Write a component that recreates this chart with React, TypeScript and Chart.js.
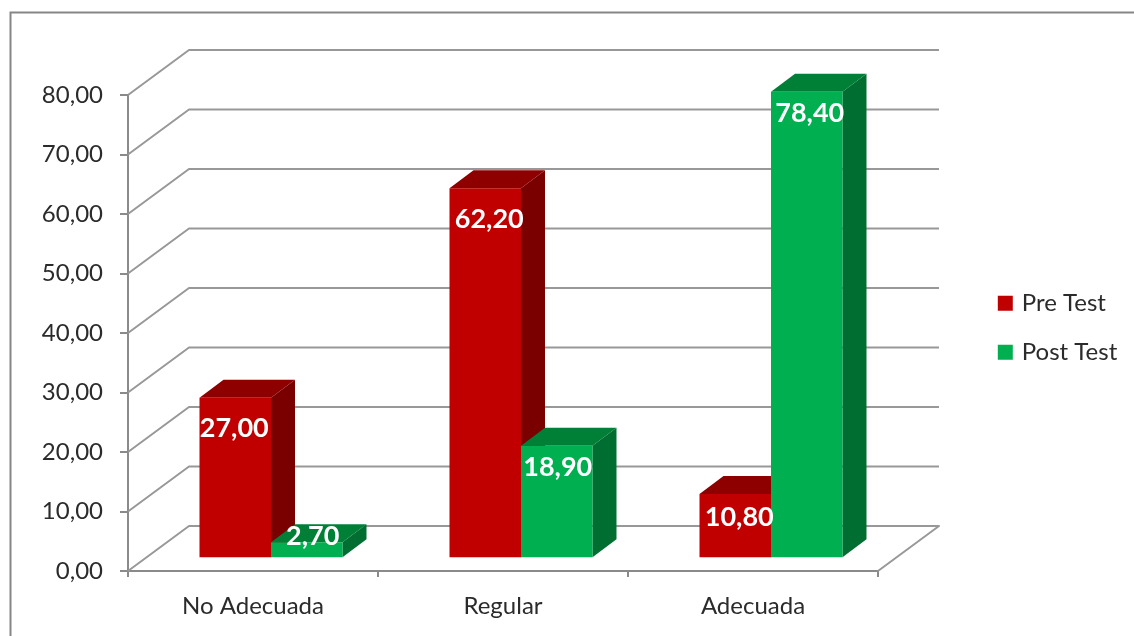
import React, { useEffect, useRef } from "react";
import { Chart, registerables } from "chart.js";

Chart.register(...registerables);

const categories = ["No Adecuada", "Regular", "Adecuada"];
const preTest = [27.0, 62.2, 10.8];
const postTest = [2.7, 18.9, 78.4];

const FONT = "Lato";
const GRID = "#989898";
const AXIS = "#8a8a8a";
const TEXT = "#2b2b2b";

const formatValue = (v: number) => v.toFixed(2).replace(".", ",");

// Extruded bars and the receding walls of the plot box
const depthPlugin = {
  id: "depth",
  beforeInit(chart: any) {
    const legend = chart.legend;
    const fit = legend.fit;
    legend.fit = function () {
      fit.call(legend);
      legend.width = 256;
    };
  },
  afterLayout(chart: any) {
    const legend = chart.legend;
    legend.left = 975.8;
    legend.right = 1134;
    legend.top = 266.2;
    legend.bottom = 400;
  },
  beforeDraw(chart: any) {
    const { ctx } = chart;
    ctx.save();
    ctx.strokeStyle = "#868686";
    ctx.lineWidth = 2;
    ctx.strokeRect(10.5, 12.5, 1300, 800);
    ctx.restore();
  },
  beforeDatasetsDraw(chart: any) {
    const { ctx, chartArea, scales } = chart;
    const wallX = 61;
    const wallY = 45;
    ctx.save();
    ctx.strokeStyle = GRID;
    ctx.lineWidth = 2;
    ctx.lineJoin = "round";
    for (const tick of scales.y.ticks) {
      const y = scales.y.getPixelForValue(tick.value);
      ctx.beginPath();
      ctx.moveTo(chartArea.left, y);
      ctx.lineTo(chartArea.left + wallX, y - wallY);
      ctx.lineTo(chartArea.right + wallX, y - wallY);
      if (tick.value === 0) ctx.lineTo(chartArea.right, y);
      ctx.stroke();
    }
    ctx.restore();
  },
  // The default pass paints the last dataset first; here the first one must go underneath
  beforeDatasetDraw() {
    return false;
  },
  afterDatasetsDraw(chart: any) {
    const { ctx } = chart;
    const dx = 24;
    const dy = 18;
    ctx.save();
    ctx.translate(18, -12.7);
    chart.data.datasets.forEach((ds: any, i: number) => {
      const meta = chart.getDatasetMeta(i);
      for (const el of meta.data) {
        const l = el.x - el.width / 2;
        const r = el.x + el.width / 2;
        ctx.fillStyle = ds.topColor;
        ctx.beginPath();
        ctx.moveTo(l, el.y);
        ctx.lineTo(l + dx, el.y - dy);
        ctx.lineTo(r + dx, el.y - dy);
        ctx.lineTo(r, el.y);
        ctx.closePath();
        ctx.fill();
        ctx.fillStyle = ds.sideColor;
        ctx.beginPath();
        ctx.moveTo(r, el.y);
        ctx.lineTo(r + dx, el.y - dy);
        ctx.lineTo(r + dx, el.base - dy);
        ctx.lineTo(r, el.base);
        ctx.closePath();
        ctx.fill();
      }
      meta.controller.draw();
    });

    // Per-bar label nudges, [x, y] from the centre of the bar's top edge
    const nudges = [
      [[-1, 30.5], [4, 31], [4, 23]],
      [[6, -6], [1, 21.5], [3, 21.5]],
    ];
    ctx.fillStyle = "#ffffff";
    ctx.font = `bold 27px ${FONT}`;
    ctx.textAlign = "center";
    ctx.textBaseline = "middle";
    chart.data.datasets.forEach((ds: any, i: number) => {
      chart.getDatasetMeta(i).data.forEach((el: any, j: number) => {
        const [nx, ny] = nudges[i][j];
        ctx.fillText(formatValue(ds.data[j]), el.x + nx, el.y + ny);
      });
    });
    ctx.restore();
  },
};

export default function App() {
  const ref = useRef<HTMLCanvasElement>(null);

  useEffect(() => {
    const chart = new Chart(ref.current as HTMLCanvasElement, {
      type: "bar",
      data: {
        labels: categories,
        datasets: [
          {
            label: "Pre Test",
            data: preTest,
            backgroundColor: "#c00000",
            topColor: "#8e0000",
            sideColor: "#7a0000",
          },
          {
            label: "Post Test",
            data: postTest,
            backgroundColor: "#00b050",
            topColor: "#008037",
            sideColor: "#006e30",
          },
        ] as any,
      },
      options: {
        animation: false,
        responsive: false,
        categoryPercentage: 0.572,
        barPercentage: 1,
        layout: { padding: { left: 0, right: 0, top: 95, bottom: 0 } },
        scales: {
          x: {
            afterFit: (s: any) => {
              s.height = 65;
            },
            border: { color: AXIS, width: 2 },
            grid: { drawOnChartArea: false, drawTicks: true, tickLength: 6, color: AXIS, lineWidth: 2 },
            ticks: {
              color: TEXT,
              padding: 15,
              maxRotation: 0,
              font: { family: FONT, size: 24 },
            },
          },
          y: {
            min: 0,
            max: 80,
            afterFit: (s: any) => {
              s.width = 128;
            },
            border: { color: AXIS, width: 2 },
            grid: { drawOnChartArea: false, drawTicks: true, tickLength: 8, color: AXIS, lineWidth: 2 },
            ticks: {
              stepSize: 10,
              color: TEXT,
              padding: 17,
              callback: (v: any) => formatValue(Number(v)),
              font: { family: FONT, size: 24 },
            },
          },
        },
        plugins: {
          title: { display: false },
          tooltip: { enabled: false },
          legend: {
            position: "right",
            align: "start",
            labels: {
              boxWidth: 9,
              boxHeight: 9,
              padding: 25,
              color: TEXT,
              font: { family: FONT, size: 24 },
              // A thick same-colour outline keeps the swatch 15px wide with a tight gap to the text
              generateLabels: (c: any) =>
                c.data.datasets.map((ds: any, i: number) => ({
                  text: ds.label,
                  fillStyle: ds.backgroundColor,
                  strokeStyle: ds.backgroundColor,
                  lineWidth: 6,
                  fontColor: TEXT,
                  datasetIndex: i,
                })),
            },
          },
        },
      } as any,
      plugins: [depthPlugin as any],
    });
    return () => chart.destroy();
  }, []);

  return (
    <div style={{ position: "fixed", left: 0, top: 0, width: 1134, height: 636, background: "#ffffff" }}>
      <canvas ref={ref} width={1134} height={636} style={{ display: "block" }} />
    </div>
  );
}
